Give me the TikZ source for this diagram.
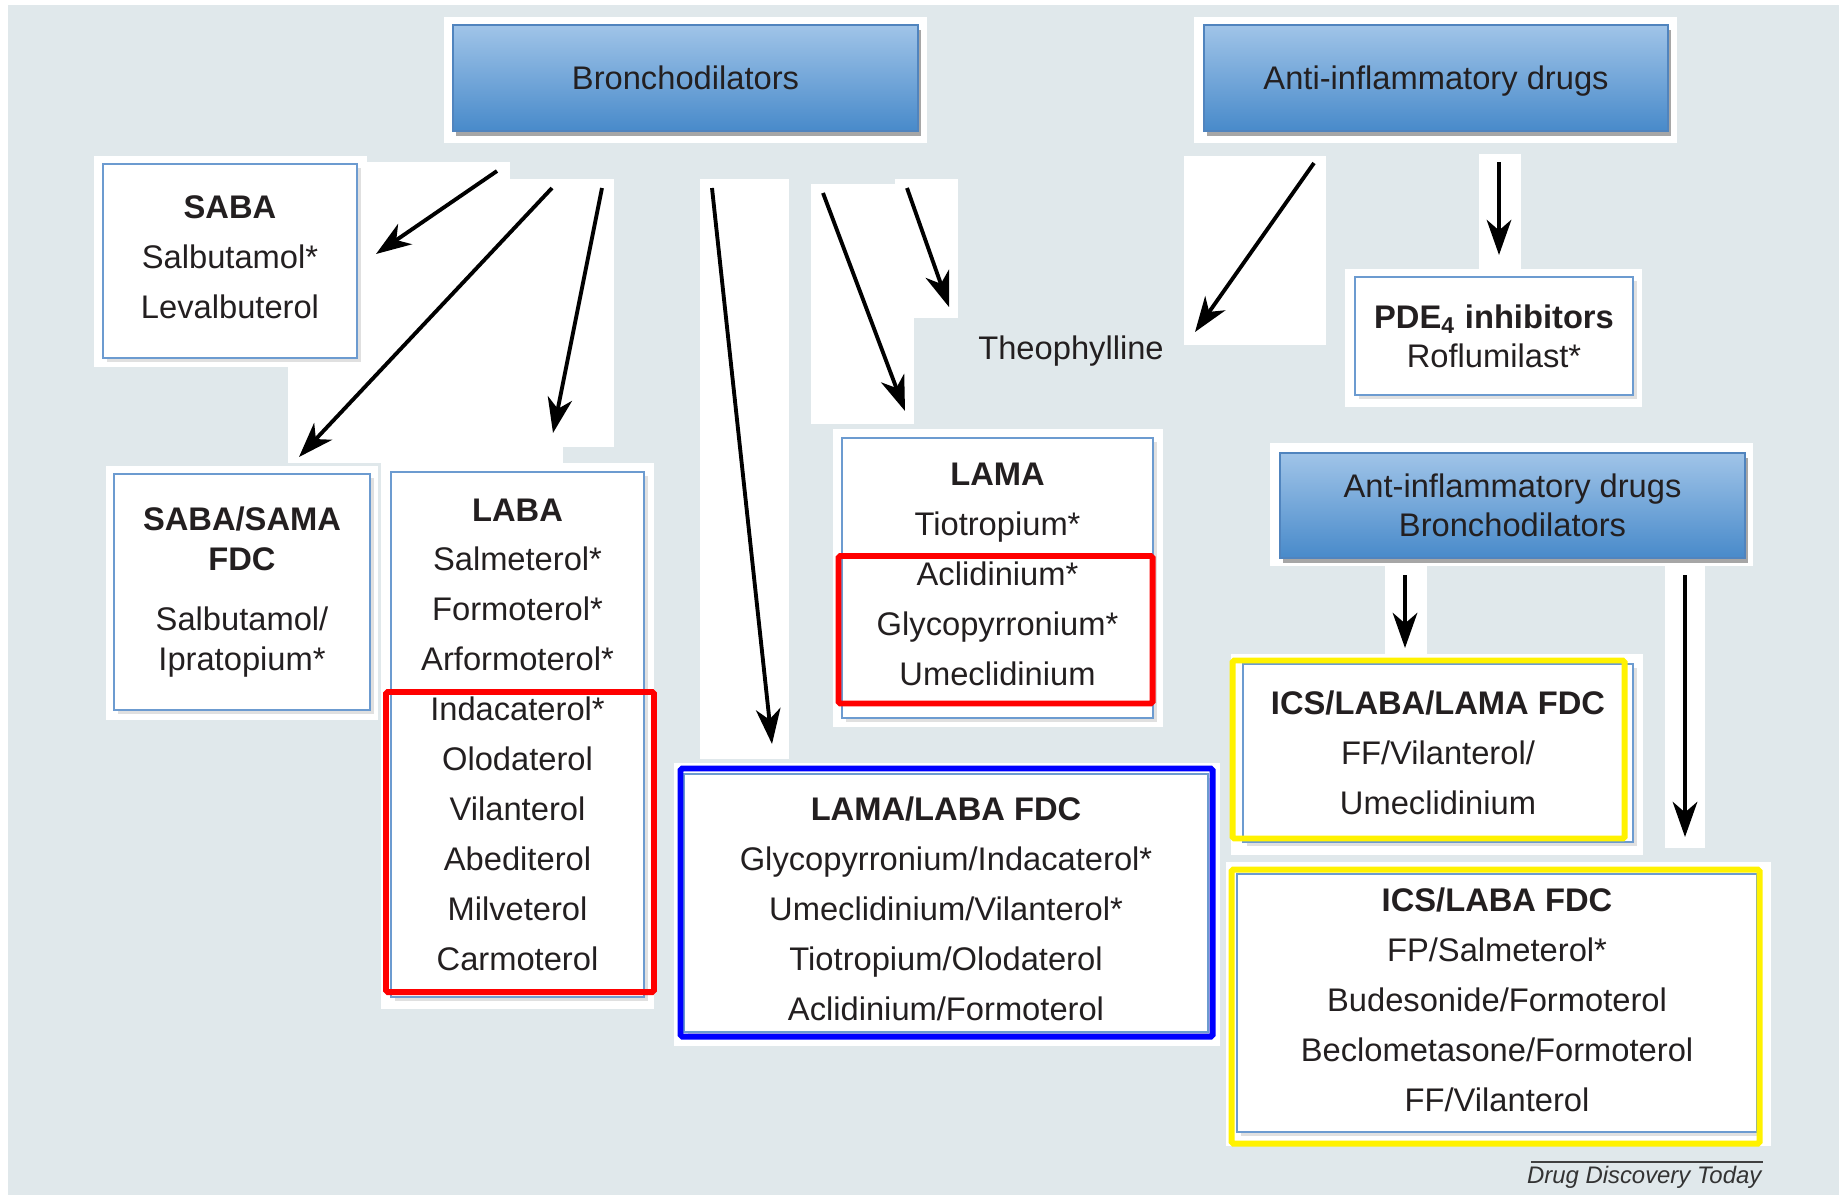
\documentclass[tikz,border=0pt]{standalone}
\usepackage{fontspec}
\setmainfont{Liberation Sans}
\usetikzlibrary{arrows.meta,shadows}

\definecolor{panel}{RGB}{224,232,235}
\definecolor{boxline}{RGB}{108,155,208}
\definecolor{hdtop}{RGB}{160,196,232}
\definecolor{hdbot}{RGB}{72,138,202}
\definecolor{hdline}{RGB}{80,132,190}
\definecolor{ink}{RGB}{35,31,32}

\begin{document}
\begin{tikzpicture}[y=-1cm,
    every node/.style={text=ink, font=\fontsize{9.3}{14.2}\selectfont},
    header/.style={draw=hdline, line width=0.5pt, top color=hdtop, bottom color=hdbot,
        align=center, inner sep=0pt,
        drop shadow={shadow xshift=0.8pt, shadow yshift=-1.5pt, fill=black, opacity=0.35}},
    drugbox/.style={draw=boxline, line width=0.6pt, fill=white, align=center, inner sep=0pt,
        drop shadow={shadow xshift=1pt, shadow yshift=-1pt, fill=black, opacity=0.12}},
    patch/.style={fill=white},
    arrow/.style={line width=1.1pt, -{Stealth[length=10pt, width=7pt, inset=3pt]}},
    frame/.style={line width=1.7pt, rounded corners=0.5pt}]
    \useasboundingbox (0,0) rectangle (18.39,11.95);
    % Panel
    \fill[white] (0,0) rectangle (18.39,11.95);
    \fill[panel] (0.08,0.05) rectangle (18.39,11.95);
    % White patches behind boxes and arrows
    \fill[patch] (4.44,0.17) rectangle (9.27,1.43);
    \fill[patch] (11.94,0.17) rectangle (16.77,1.43);
    \fill[patch] (0.94,1.56) rectangle (3.67,3.67);
    \fill[patch] (3.66,1.62) rectangle (5.10,2.67);
    \fill[patch] (2.88,1.79) rectangle (5.63,4.63);
    \fill[patch] (5.63,1.79) rectangle (6.14,4.47);
    \fill[patch] (7.00,1.79) rectangle (7.89,7.59);
    \fill[patch] (8.11,1.84) rectangle (9.14,4.24);
    \fill[patch] (8.95,1.79) rectangle (9.58,3.18);
    \fill[patch] (11.84,1.56) rectangle (13.26,3.45);
    \fill[patch] (14.79,1.54) rectangle (15.21,2.70);
    \fill[patch] (13.45,2.69) rectangle (16.42,4.07);
    \fill[patch] (8.33,4.29) rectangle (11.63,7.27);
    \fill[patch] (1.06,4.66) rectangle (3.78,7.20);
    \fill[patch] (3.81,4.63) rectangle (6.54,10.09);
    \fill[patch] (6.74,7.63) rectangle (12.20,10.46);
    \fill[patch] (12.70,4.43) rectangle (17.53,5.66);
    \fill[patch] (13.85,5.65) rectangle (14.27,6.55);
    \fill[patch] (16.65,5.65) rectangle (17.05,8.48);
    \fill[patch] (12.31,6.54) rectangle (16.43,8.55);
    \fill[patch] (12.26,8.62) rectangle (17.71,11.46);
    % Drug classes
    \node[header, minimum width=4.65cm, minimum height=1.06cm] (bronch) at (6.855,0.78) {Bronchodilators};
    \node[header, minimum width=4.64cm, minimum height=1.06cm, text depth=0pt] (antiinf) at (14.36,0.78) {Anti-inflammatory drugs};
    \node[header, minimum width=4.65cm, minimum height=1.05cm, font=\fontsize{9.3}{11}\selectfont] (combo) at (15.125,5.055)
        {Ant-inflammatory drugs\\Bronchodilators};
    % Single agents
    \node[drugbox, minimum width=2.54cm, minimum height=1.94cm, text depth=2pt] (saba) at (2.30,2.61)
        {\textbf{SABA}\\Salbutamol*\\Levalbuterol};
    \node[drugbox, minimum width=2.56cm, minimum height=2.36cm, font=\fontsize{9.3}{11.2}\selectfont] (sabasama) at (2.42,5.92)
        {\textbf{SABA/SAMA}\\\textbf{FDC}\\[6pt]Salbutamol/\\Ipratopium*};
    \node[drugbox, minimum width=2.53cm, minimum height=5.25cm] (laba) at (5.175,7.345)
        {\textbf{LABA}\\Salmeterol*\\Formoterol*\\Arformoterol*\\Indacaterol*\\Olodaterol\\Vilanterol\\Abediterol\\Milveterol\\Carmoterol};
    \node[drugbox, minimum width=3.11cm, minimum height=2.80cm, text depth=2pt] (lama) at (9.975,5.78)
        {\textbf{LAMA}\\Tiotropium*\\Aclidinium*\\Glycopyrronium*\\Umeclidinium};
    \node (theo) at (10.71,3.515) {Theophylline};
    \node[drugbox, minimum width=2.78cm, minimum height=1.18cm, font=\fontsize{9.3}{11}\selectfont] (pde) at (14.94,3.36)
        {\textbf{PDE\textsubscript{4} inhibitors}\\Roflumilast*};
    % Fixed-dose combinations
    \node[drugbox, minimum width=5.24cm, minimum height=2.58cm, text height=67pt] (lamalaba) at (9.46,9.03)
        {\textbf{LAMA/LABA FDC}\\Glycopyrronium/Indacaterol*\\Umeclidinium/Vilanterol*\\Tiotropium/Olodaterol\\Aclidinium/Formoterol};
    \node[drugbox, minimum width=3.90cm, minimum height=1.78cm] (triple) at (14.38,7.53)
        {\textbf{ICS/LABA/LAMA FDC}\\FF/Vilanterol/\\Umeclidinium};
    \node[drugbox, minimum width=5.20cm, minimum height=2.58cm, text depth=2pt] (icslaba) at (14.97,10.03)
        {\textbf{ICS/LABA FDC}\\FP/Salmeterol*\\Budesonide/Formoterol\\Beclometasone/Formoterol\\FF/Vilanterol};
    % Highlight frames
    \draw[frame, red] (3.86,6.92) rectangle (6.54,9.92);
    \draw[frame, red] (8.385,5.56) rectangle (11.525,7.035);
    \draw[frame, blue] (6.805,7.685) rectangle (12.125,10.365);
    \draw[frame, yellow] (12.325,6.605) rectangle (16.245,8.385);
    \draw[frame, yellow] (12.315,8.695) rectangle (17.595,11.435);
    % Arrow ends
    \coordinate (b1) at (4.97,1.71);  \coordinate (t1) at (3.76,2.54);
    \coordinate (b2) at (5.52,1.88);  \coordinate (t2) at (2.99,4.57);
    \coordinate (b3) at (6.02,1.88);  \coordinate (t3) at (5.53,4.33);
    \coordinate (b4) at (7.12,1.88);  \coordinate (t4) at (7.72,7.44);
    \coordinate (b5) at (8.23,1.93);  \coordinate (t5) at (9.05,4.11);
    \coordinate (b6) at (9.07,1.88);  \coordinate (t6) at (9.49,3.07);
    \coordinate (a1) at (13.14,1.63); \coordinate (u1) at (11.95,3.32);
    \coordinate (a2) at (14.99,1.62); \coordinate (u2) at (14.99,2.55);
    \coordinate (c1) at (14.05,5.75); \coordinate (v1) at (14.05,6.48);
    \coordinate (c2) at (16.85,5.75); \coordinate (v2) at (16.85,8.37);
    % Arrows
    \foreach \s/\t in {b1/t1, b2/t2, b3/t3, b4/t4, b5/t5, b6/t6, a1/u1, a2/u2, c1/v1, c2/v2}
        \draw[arrow] (\s) -- (\t);
    % Source line
    \draw[line width=0.5pt, black!75] (15.31,11.62) -- (17.63,11.62);
    \node[anchor=base east, inner sep=0pt, text=black!80, font=\fontsize{6.8}{8}\itshape] (source) at (17.62,11.83)
        {Drug Discovery Today};
  \end{tikzpicture}
\end{document}
